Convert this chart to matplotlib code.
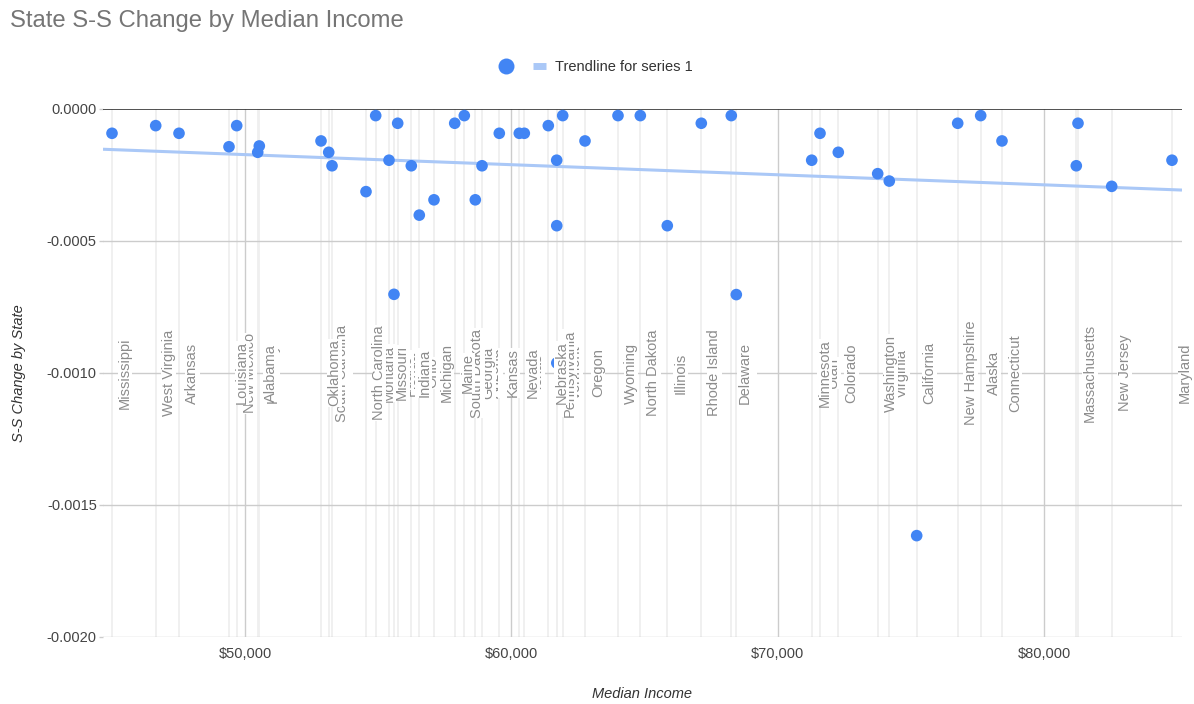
import numpy as np
import matplotlib
matplotlib.use("Agg")
import matplotlib.pyplot as plt
from matplotlib.lines import Line2D

plt.rcParams["font.family"] = ["Liberation Sans", "DejaVu Sans"]

# Median household income by state and the state S-S change
states = [
    "Mississippi", "West Virginia", "Arkansas", "Louisiana", "New Mexico",
    "Alabama", "Kentucky", "Oklahoma", "South Carolina", "Tennessee",
    "North Carolina", "Montana", "Missouri", "Idaho", "Florida",
    "Indiana", "Ohio", "Michigan", "Maine", "South Dakota",
    "Georgia", "Arizona", "Kansas", "Nevada", "Texas",
    "Nebraska", "Pennsylvania", "Iowa", "Wisconsin", "Vermont",
    "Oregon", "Wyoming", "North Dakota", "Illinois", "Rhode Island",
    "Delaware", "New York", "Minnesota", "Utah", "Colorado",
    "Washington", "Virginia", "California", "New Hampshire", "Alaska",
    "Connecticut", "Massachusetts", "Hawaii", "New Jersey", "Maryland",
]
median_income = [
    45006, 46647, 47522, 49399, 49688,
    50477, 50537, 52854, 53143, 53267,
    54543, 54907, 55407, 55594, 55733,
    56244, 56544, 57096, 57874, 58234,
    58647, 58899, 59548, 60299, 60487,
    61388, 61703, 61705, 61707, 61929,
    62766, 64005, 64843, 65856, 67133,
    68259, 68447, 71278, 71590, 72277,
    73756, 74191, 75220, 76760, 77623,
    78423, 81213, 81277, 82542, 84806,
]
ss_change = [
    -0.000092, -0.000063, -0.000092, -0.000143, -0.000063,
    -0.000164, -0.000140, -0.000121, -0.000164, -0.000215,
    -0.000313, -0.000025, -0.000194, -0.000702, -0.000054,
    -0.000215, -0.000402, -0.000344, -0.000054, -0.000025,
    -0.000344, -0.000215, -0.000092, -0.000092, -0.000092,
    -0.000063, -0.000194, -0.000442, -0.000962, -0.000025,
    -0.000121, -0.000025, -0.000025, -0.000442, -0.000054,
    -0.000025, -0.000703, -0.000194, -0.000092, -0.000164,
    -0.000245, -0.000273, -0.001616, -0.000054, -0.000025,
    -0.000121, -0.000215, -0.000054, -0.000293, -0.000194,
]

x_ticks = [50000, 60000, 70000, 80000]
x_tick_labels = ["$50,000", "$60,000", "$70,000", "$80,000"]
y_ticks = [0.0, -0.0005, -0.0010, -0.0015, -0.0020]
y_tick_labels = ["0.0000", "-0.0005", "-0.0010", "-0.0015", "-0.0020"]

POINT_BLUE = "#4285F4"
TREND_BLUE = "#aac8f7"

W, H = 1194, 704
fig = plt.figure(figsize=(W / 100, H / 100), dpi=100)
ax = fig.add_axes([103 / W, 1 - 637 / H, (1182 - 103) / W, (637 - 109) / H])

x = np.array(median_income, dtype=float)
y = np.array(ss_change, dtype=float)

ax.set_xlim(44668, 85182)
ax.set_ylim(-0.002, 0.0)

# light guide line at every state's income
for xi in x:
    ax.axvline(xi, color="#efefef", lw=1.3, zorder=1)

# major gridlines
for xt in x_ticks:
    ax.axvline(xt, color="#cccccc", lw=1.0, zorder=1.5)
for yt in y_ticks[1:]:
    ax.axhline(yt, color="#cccccc", lw=1.0, zorder=1.5)
ax.axhline(0.0, color="#333333", lw=1.2, zorder=2)

# least-squares trendline across the whole axis
slope, intercept = np.polyfit(x, y, 1)
xs = np.array(ax.get_xlim())
ax.plot(xs, slope * xs + intercept, color=TREND_BLUE, lw=2.2, zorder=3,
        solid_capstyle="butt")

ax.scatter(x, y, s=70, color=POINT_BLUE, edgecolors="none", zorder=4,
           clip_on=False)

# state name labels; the left-most label of an overlapping group stays on top
order = np.argsort(x, kind="stable")
for rank, i in enumerate(order):
    ax.annotate(states[i], xy=(x[i], -0.001), xytext=(9.4, 0),
                textcoords="offset points", rotation=90,
                ha="center", va="center", fontsize=10.5, color="#8c8c8c",
                zorder=100 - rank,
                bbox=dict(facecolor="white", edgecolor="none", pad=0.3))

for s in ax.spines.values():
    s.set_visible(False)

ax.set_xticks(x_ticks)
ax.set_xticklabels(x_tick_labels)
ax.set_yticks(y_ticks)
ax.set_yticklabels(y_tick_labels)
ax.tick_params(axis="x", length=0, pad=7.5, labelsize=10.5, labelcolor="#444444")
ax.tick_params(axis="y", length=3, width=1, color="#cccccc", pad=1.5,
               labelsize=10.5, labelcolor="#444444")

ax.set_xlabel("Median Income", fontsize=10.5, style="italic", color="#333333")
ax.xaxis.set_label_coords(0.5, -0.095)
ax.set_ylabel("S-S Change by State", fontsize=10.5, style="italic",
              color="#333333")
ax.yaxis.set_label_coords(-0.0715, 0.5)

fig.text(10 / W, 1 - 27 / H, "State S-S Change by Median Income",
         fontsize=17.2, color="#757575", ha="left", va="baseline")

handles = [
    Line2D([], [], ls="none", marker="o", markersize=11.5,
           markerfacecolor=POINT_BLUE, markeredgecolor="none"),
    Line2D([], [], color=TREND_BLUE, lw=5, solid_capstyle="butt"),
]
fig.legend(handles, ["", "Trendline for series 1"], loc="center",
           bbox_to_anchor=(596 / W, 1 - 67 / H), ncol=2, frameon=False,
           fontsize=10.5, handlelength=0.9, handletextpad=0.6,
           columnspacing=0.8, labelcolor="#333333")

fig.savefig("out.png", dpi=100)
